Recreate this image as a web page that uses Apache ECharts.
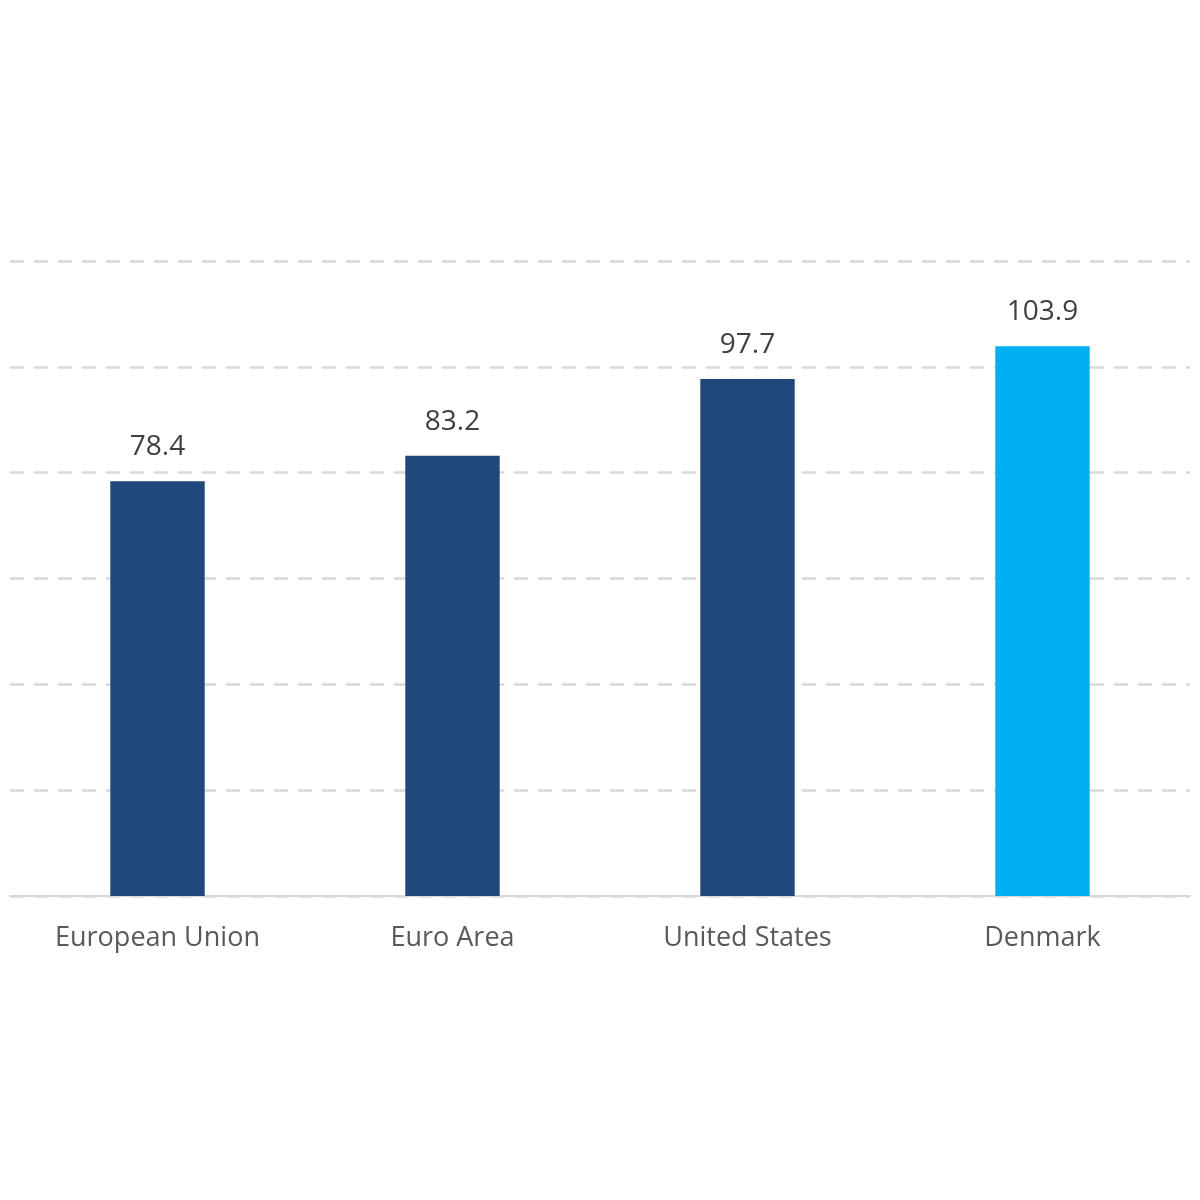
<!DOCTYPE html>
<html>
<head>
<meta charset="utf-8">
<script src="https://cdn.jsdelivr.net/npm/echarts@6/dist/echarts.min.js"></script>
<style>html,body{margin:0;padding:0;background:#fff}#c{width:1200px;height:1200px}</style>
</head>
<body>
<div id="c"></div>
<script>
const categories = ['European Union', 'Euro Area', 'United States', 'Denmark'];
const values = [78.4, 83.2, 97.7, 103.9];
const barColors = ['#1F497D', '#1F497D', '#1F497D', '#00B0F0'];

const chart = echarts.init(document.getElementById('c'));
chart.setOption({
  animation: false,
  grid: { left: 10, right: 10, top: 261, bottom: 304, containLabel: false },
  xAxis: {
    type: 'category',
    data: categories,
    axisLine: { show: true, lineStyle: { color: '#D9D9D9', width: 2 } },
    axisTick: { show: false },
    axisLabel: { color: '#595959', fontSize: 27, fontFamily: 'Open Sans, Noto Sans, sans-serif', margin: 29 }
  },
  yAxis: {
    type: 'value',
    min: 0, max: 120, interval: 20,
    axisLabel: { show: false },
    axisLine: { show: false },
    axisTick: { show: false },
    splitLine: { lineStyle: { color: '#D9D9D9', width: 2.5, type: [14, 10] } }
  },
  series: [{
    type: 'bar',
    barWidth: '32%',
    data: values.map((v, i) => ({ value: v, itemStyle: { color: barColors[i] } })),
    label: {
      show: true, position: 'top', distance: 20,
      color: '#404040', fontSize: 28, fontFamily: 'Open Sans, Noto Sans, sans-serif',
      formatter: p => p.value.toFixed(1)
    }
  }]
});
</script>
</body>
</html>
